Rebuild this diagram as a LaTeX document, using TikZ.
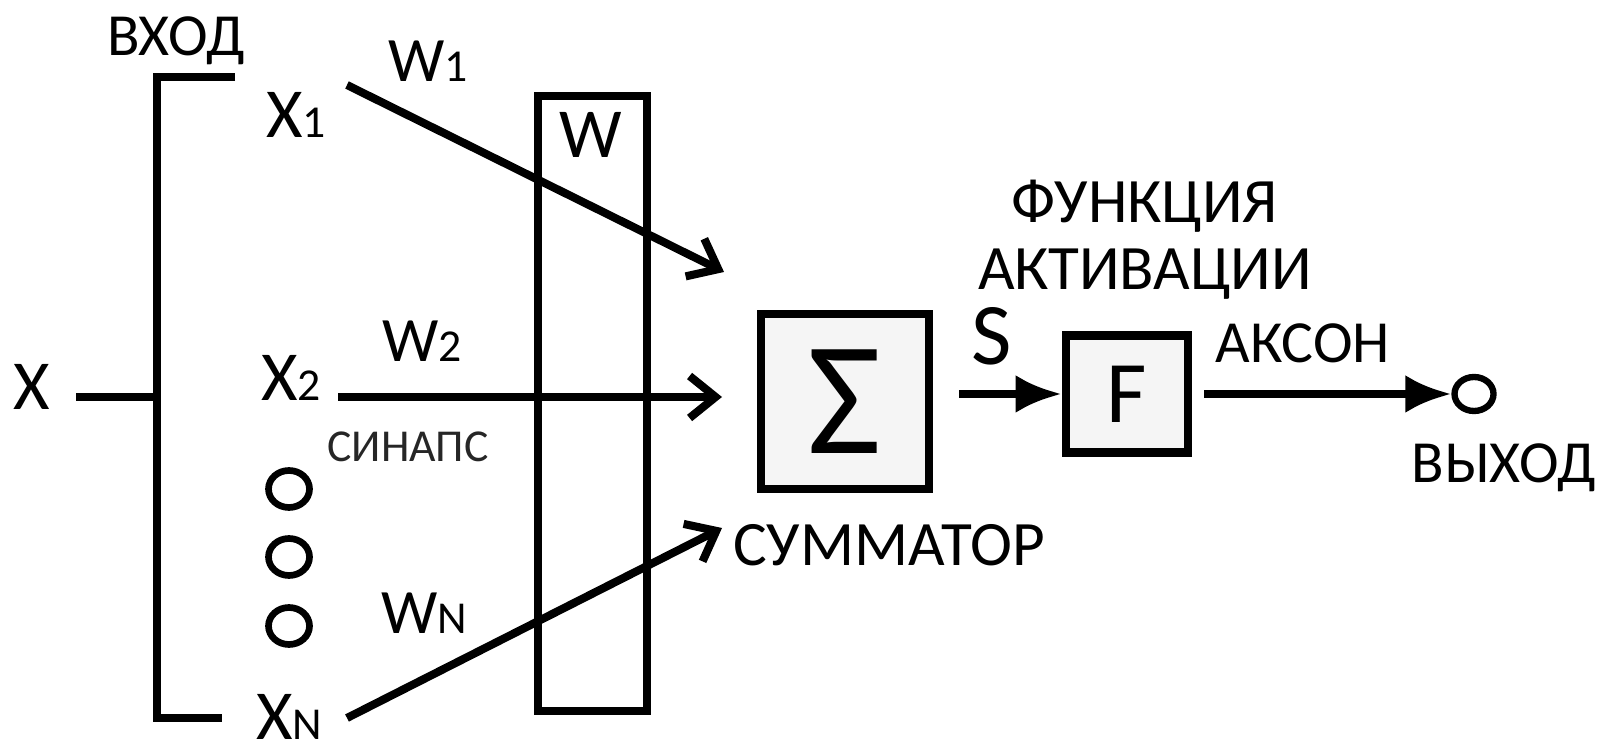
\documentclass[tikz,border=0pt]{standalone}
\usepackage{fontspec}
\setmainfont{Carlito}
\usetikzlibrary{arrows.meta,positioning,shapes.geometric}
\newcommand{\fs}[1]{\fontsize{#1}{#1}\selectfont}
\newcommand{\idx}[1]{{\fs{13}#1}}

\begin{document}
\begin{tikzpicture}[x=0.1mm, y=-0.1mm, line width=2.3pt,
  every node/.style={inner sep=0pt, font=\fs{18}},
  lbl/.style={anchor=base},
  block/.style={draw, line width=2.5pt, fill=black!4},
  dot/.style={draw, ellipse, line width=1.9pt, minimum width=4.1mm, minimum height=3.7mm},
  inarr/.style={-{Straight Barb[length=2.6mm, width=4.2mm]}},
  outarr/.style={-{Latex[length=4.6mm, width=3.8mm]}}]
\useasboundingbox (0,0) rectangle (1610,754);

% inputs
\node[lbl, font=\fs{20}] (xin) at (32,410) {X};
\node[lbl, font=\fs{17}] (vhod) at (176,56) {ВХОД};
\coordinate (bar) at (157,397);
\draw[line join=miter] (235,77) -| (157,718) -- (222,718);
\draw ([xshift=2.2mm]xin.east |- bar) -- (bar);

\node[lbl, font=\fs{20}] (x1) at (296,138) {X\idx{1}};
\node[lbl, font=\fs{20}] (x2) at (291,401) {X\idx{2}};
\node[lbl, font=\fs{20}] (xn) at (289,740) {X\idx{N}};
\foreach \i/\y in {a/489,b/557,c/626}
  \node[dot] (dot\i) at (289,\y) {};

% weights
\node[draw, line width=2.5pt, minimum width=10.9mm, minimum height=61.5mm] (wbox) at (592.5,403.5) {};
\node[lbl, font=\fs{20}] (wlbl) at (591,158) {W};
\node[lbl] (w1) at (428,82) {W\idx{1}};
\node[lbl] (w2) at (422,362) {W\idx{2}};
\node[lbl] (wn) at (424,634) {W\idx{N}};
\node[lbl, font=\fs{13}, text=black!85] (sinaps) at (408,462) {СИНАПС};

% summator and activation
\node[block, minimum width=16.8mm, minimum height=17.5mm, font=\fs{46}] (sum) at (845,401.5) {Σ};
\node[lbl] (summ) at (889,566) {СУММАТОР};
\node[block, minimum width=12.2mm, minimum height=11.7mm, font=\fs{25}] (act) at (1127,394) {F};
\node[lbl, font=\fs{25}] (s) at (992,365) {S};
\node[align=center, font=\fs{18}] (func) at (1145,240) {ФУНКЦИЯ\\[1pt]АКТИВАЦИИ};
\node[lbl, font=\fs{17}] (akson) at (1303,363) {АКСОН};
\node[dot, line width=1.8pt, minimum width=3.9mm, minimum height=3.4mm] (out) at (1474,394) {};
\node[lbl, font=\fs{17}, anchor=base east] (vyhod) at (1600,483) {ВЫХОД};

\coordinate (s1) at (347,85);
\coordinate (t1) at (724,272);
\coordinate (s2) at (338,397);
\coordinate (t2) at (722,397);
\coordinate (sn) at (347,718);
\coordinate (tn) at (722,528);
\draw[inarr] (s1) -- (t1);
\draw[inarr] (s2) -- (t2);
\draw[inarr] (sn) -- (tn);
\draw[outarr] ([xshift=2.6mm]sum.east |- act.west) -- (act.west);
\draw[outarr] ([xshift=1.2mm]act.east) -- (out.west);
\end{tikzpicture}
\end{document}
